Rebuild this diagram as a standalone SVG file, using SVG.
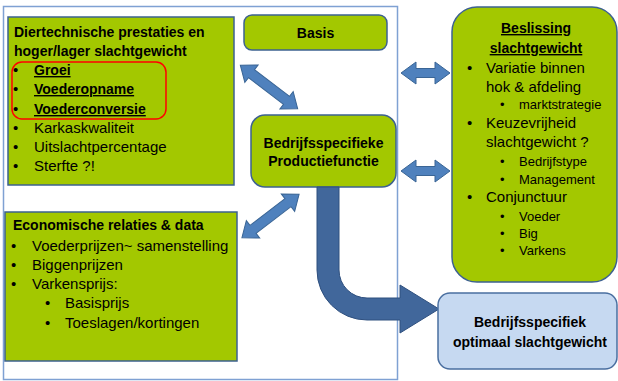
<svg xmlns="http://www.w3.org/2000/svg" width="618" height="381" viewBox="0 0 618 381">
<style>
text{font-family:"Liberation Sans",Arial,sans-serif;fill:#000}
.b{font-weight:bold;font-size:14px}
.r{font-size:15px}
.s{font-size:13px}
.u{text-decoration:underline}
.c{text-anchor:middle}
.green{fill:#a3c800;stroke:#3d6190;stroke-width:1.5}
.dbl{fill:#4f81bd;stroke:#3a6595;stroke-width:1}
</style>
<defs>
<polygon id="dblD" points="-36,0 -22,-11 -22,-5 22,-5 22,-11 36,0 22,11 22,5 -22,5 -22,11"/>
<polygon id="dblH" points="-24.5,0 -9.5,-11 -9.5,-4.5 9.5,-4.5 9.5,-11 24.5,0 9.5,11 9.5,4.5 -9.5,4.5 -9.5,11"/>
</defs>
<rect id="frame" x="3.5" y="6.5" width="394" height="373" fill="none" stroke="#7fa1d3" stroke-width="1.5"/>

<g id="dier">
<rect class="green" x="8" y="17" width="226" height="168"/>
<rect x="12" y="62" width="154" height="57" rx="10" fill="none" stroke="#f00" stroke-width="1.5"/>
<text class="b" x="14" y="37">Diertechnische prestaties en</text>
<text class="b" x="14" y="56">hoger/lager slachtgewicht</text>
<text class="r" x="13" y="75">•</text><text class="b u" x="34" y="75">Groei</text>
<text class="r" x="13" y="94">•</text><text class="b u" x="34" y="94">Voederopname</text>
<text class="r" x="13" y="114">•</text><text class="b u" x="34" y="114">Voederconversie</text>
<text class="r" x="13" y="133">•</text><text class="r" x="34" y="133">Karkaskwaliteit</text>
<text class="r" x="13" y="152">•</text><text class="r" x="34" y="152">Uitslachtpercentage</text>
<text class="r" x="13" y="171">•</text><text class="r" x="34" y="171">Sterfte ?!</text>
</g>

<g id="basis">
<rect class="green" x="244" y="15" width="143" height="35" rx="8"/>
<text class="b c" x="315.5" y="38">Basis</text>
</g>

<g id="productie">
<rect class="green" x="251" y="115" width="145" height="72" rx="14"/>
<text class="b c" x="323.5" y="148">Bedrijfsspecifieke</text>
<text class="b c" x="323.5" y="166">Productiefunctie</text>
</g>

<g id="economisch">
<rect class="green" x="5" y="212" width="232" height="149"/>
<text class="b" x="13" y="230">Economische relaties &amp; data</text>
<text class="r" x="11" y="251">•</text><text class="r" x="32" y="251">Voederprijzen~ samenstelling</text>
<text class="r" x="11" y="270">•</text><text class="r" x="32" y="270">Biggenprijzen</text>
<text class="r" x="11" y="289">•</text><text class="r" x="32" y="289">Varkensprijs:</text>
<text class="r" x="45" y="308">•</text><text class="r" x="65" y="308">Basisprijs</text>
<text class="r" x="45" y="328">•</text><text class="r" x="65" y="328">Toeslagen/kortingen</text>
</g>

<g id="beslissing">
<rect class="green" x="452" y="7" width="165" height="275" rx="25"/>
<text class="b c u" x="536" y="33">Beslissing</text>
<text class="b c u" x="536" y="53">slachtgewicht</text>
<text class="r" x="467" y="73">•</text><text class="r" x="486" y="73">Variatie binnen</text>
<text class="r" x="486" y="92">hok &amp; afdeling</text>
<text class="s" x="500" y="109">•</text><text class="s" x="519" y="109">marktstrategie</text>
<text class="r" x="467" y="128">•</text><text class="r" x="486" y="128">Keuzevrijheid</text>
<text class="r" x="486" y="147">slachtgewicht ?</text>
<text class="s" x="500" y="166">•</text><text class="s" x="519" y="166">Bedrijfstype</text>
<text class="s" x="500" y="184">•</text><text class="s" x="519" y="184">Management</text>
<text class="r" x="467" y="202">•</text><text class="r" x="486" y="202">Conjunctuur</text>
<text class="s" x="500" y="221">•</text><text class="s" x="519" y="221">Voeder</text>
<text class="s" x="500" y="238">•</text><text class="s" x="519" y="238">Big</text>
<text class="s" x="500" y="255">•</text><text class="s" x="519" y="255">Varkens</text>
</g>

<g id="connectors">
<use href="#dblD" class="dbl" transform="translate(269,87) rotate(37.2)"/>
<use href="#dblD" class="dbl" transform="translate(270.5,216) rotate(-37.4)"/>
<use href="#dblH" class="dbl" transform="translate(425.5,73)"/>
<use href="#dblH" class="dbl" transform="translate(425.5,171)"/>
<path d="M317,187 L317,270 A50,50 0 0 0 367,320 L400,320 L400,333 L439,309 L400,285 L400,298 L367,298 A28,28 0 0 1 339,270 L339,187 Z" fill="#41679b" stroke="#2f507f" stroke-width="1"/>
</g>

<g id="optimaal">
<rect x="438" y="293" width="179" height="76" rx="12" fill="#c6d9f1" stroke="#4a6fa0" stroke-width="1.5"/>
<text class="b c" x="530" y="327">Bedrijfsspecifiek</text>
<text class="b c" x="530" y="347">optimaal slachtgewicht</text>
</g>
</svg>
